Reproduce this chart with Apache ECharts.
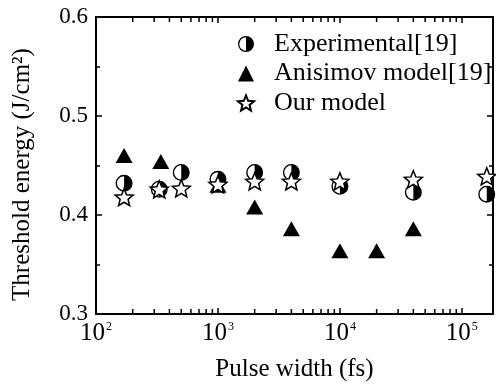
<!DOCTYPE html>
<html>
<head>
<meta charset="utf-8">
<script src="https://cdn.jsdelivr.net/npm/echarts@6/dist/echarts.min.js"></script>
<style>
html, body { margin: 0; padding: 0; background: #fff; }
#main { width: 496px; height: 387px; }
</style>
</head>
<body>
<div id="main"></div>
<script>
// pulse width (fs) and threshold energy (J/cm2)
var expX = [170, 330, 500, 1000, 2000, 4000, 10000, 40000, 160000];
var expY = [0.432, 0.426, 0.443, 0.436, 0.443, 0.443, 0.429, 0.423, 0.421];

var aniX = [170, 340, 1000, 2000, 4000, 10000, 20000, 40000];
var aniY = [0.460, 0.454, 0.430, 0.408, 0.386, 0.364, 0.364, 0.386];

var ourX = [170, 330, 500, 1000, 2000, 4000, 10000, 40000, 160000];
var ourY = [0.418, 0.426, 0.427, 0.431, 0.434, 0.434, 0.434, 0.436, 0.439];

// minor ticks of the log axis (2..9 in each decade)
var minorX = [200, 300, 400, 500, 600, 700, 800, 900,
  2000, 3000, 4000, 5000, 6000, 7000, 8000, 9000,
  20000, 30000, 40000, 50000, 60000, 70000, 80000, 90000];

function pairs(xs, ys) {
  return xs.map(function (x, i) { return [x, ys[i]]; });
}

function starPath() {
  var s = 'path://';
  for (var i = 0; i < 10; i++) {
    var a = (-90 + i * 36) * Math.PI / 180;
    var r = i % 2 ? 4.4 : 10;
    s += (i ? 'L' : 'M') + (10 + r * Math.cos(a)).toFixed(3) + ',' + (10 + r * Math.sin(a)).toFixed(3);
  }
  return s + 'Z';
}

// ring + right half disc
var halfCircle = 'path://M0,10A10,10 0 1,1 20,10A10,10 0 1,1 0,10Z' +
  'M1.6,10A8.4,8.4 0 1,0 18.4,10A8.4,8.4 0 1,0 1.6,10Z' +
  'M10,0A10,10 0 0,1 10,20Z';

var serif = '"Liberation Serif", "Times New Roman", serif';

var chart = echarts.init(document.getElementById('main'));

var logLabel = function (v) {
  var e = Math.log10(v);
  if (Math.abs(e - Math.round(e)) > 1e-6) return '';
  return '10{sup|' + Math.round(e) + '}';
};

// small tick marks drawn through the axis scale
function tickSeries(yVal, dir) {
  return {
    type: 'custom',
    silent: true,
    clip: false,
    z: 5,
    data: minorX.map(function (x) { return [x, yVal]; }),
    renderItem: function (params, api) {
      var p = api.coord([api.value(0), api.value(1)]);
      return {
        type: 'line',
        shape: { x1: p[0], y1: p[1], x2: p[0], y2: p[1] + dir * 5 },
        style: { stroke: '#000', lineWidth: 1.5 }
      };
    }
  };
}

chart.setOption({
  animation: false,
  backgroundColor: '#fff',
  textStyle: { fontFamily: serif, color: '#000' },
  grid: { left: 96, right: 3, top: 17, bottom: 73 },
  legend: {
    orient: 'vertical',
    left: 232,
    top: 25,
    itemWidth: 16,
    itemHeight: 16,
    itemGap: 1.5,
    data: ['Experimental[19]', 'Anisimov model[19]', 'Our model'],
    textStyle: { fontFamily: serif, fontSize: 26, color: '#000', lineHeight: 28, padding: [0, 0, 0, 15] }
  },
  xAxis: [{
    type: 'log',
    logBase: 10,
    min: 100,
    max: 180000,
    name: 'Pulse width (fs)',
    nameLocation: 'middle',
    nameGap: 43,
    nameTextStyle: { fontFamily: serif, fontSize: 25, color: '#000' },
    axisLine: { lineStyle: { color: '#000', width: 2 } },
    axisTick: { inside: true, length: 6, lineStyle: { color: '#000', width: 1.5 } },
    splitLine: { show: false },
    axisLabel: {
      formatter: logLabel,
      showMaxLabel: false,
      margin: 7,
      fontFamily: serif,
      fontSize: 25,
      color: '#000',
      rich: { sup: { fontFamily: serif, fontSize: 12, color: '#000', verticalAlign: 'top', padding: [0, 0, 10, 1] } }
    }
  }, {
    type: 'log',
    logBase: 10,
    min: 100,
    max: 180000,
    position: 'top',
    axisLine: { lineStyle: { color: '#000', width: 2 } },
    axisTick: { inside: true, length: 6, lineStyle: { color: '#000', width: 1.5 } },
    splitLine: { show: false },
    axisLabel: { show: false }
  }],
  yAxis: [{
    type: 'value',
    min: 0.3,
    max: 0.6,
    interval: 0.1,
    name: 'Threshold energy (J/cm²)',
    nameLocation: 'middle',
    nameGap: 61,
    nameTextStyle: { fontFamily: serif, fontSize: 25, color: '#000', padding: [0, 18, 0, 0] },
    axisLine: { show: true, lineStyle: { color: '#000', width: 2 } },
    axisTick: { show: true, inside: true, length: 6, lineStyle: { color: '#000', width: 1.5 } },
    minorTick: { show: true, splitNumber: 2, length: 4, lineStyle: { color: '#000', width: 1.5 } },
    splitLine: { show: false },
    axisLabel: {
      formatter: function (v) { return v.toFixed(1); },
      margin: 8,
      fontFamily: serif,
      fontSize: 23,
      color: '#000'
    }
  }, {
    type: 'value',
    min: 0.3,
    max: 0.6,
    interval: 0.1,
    position: 'right',
    axisLine: { show: true, lineStyle: { color: '#000', width: 2 } },
    axisTick: { show: true, inside: true, length: 6, lineStyle: { color: '#000', width: 1.5 } },
    minorTick: { show: true, splitNumber: 2, length: 4, lineStyle: { color: '#000', width: 1.5 } },
    splitLine: { show: false },
    axisLabel: { show: false }
  }],
  series: [{
    name: 'Anisimov model[19]',
    type: 'scatter',
    symbol: 'triangle',
    symbolSize: [17, 15],
    itemStyle: { color: '#000', opacity: 1 },
    data: pairs(aniX, aniY)
  }, {
    name: 'Experimental[19]',
    type: 'scatter',
    symbol: halfCircle,
    symbolSize: 17,
    symbolKeepAspect: true,
    itemStyle: { color: '#000', opacity: 1 },
    data: pairs(expX, expY)
  }, {
    name: 'Our model',
    type: 'scatter',
    symbol: starPath(),
    symbolSize: 18,
    symbolKeepAspect: true,
    itemStyle: { color: '#fff', borderColor: '#000', borderWidth: 1.5, opacity: 1 },
    data: pairs(ourX, ourY)
  },
  tickSeries(0.3, -1),
  tickSeries(0.6, 1)]
});
</script>
</body>
</html>
